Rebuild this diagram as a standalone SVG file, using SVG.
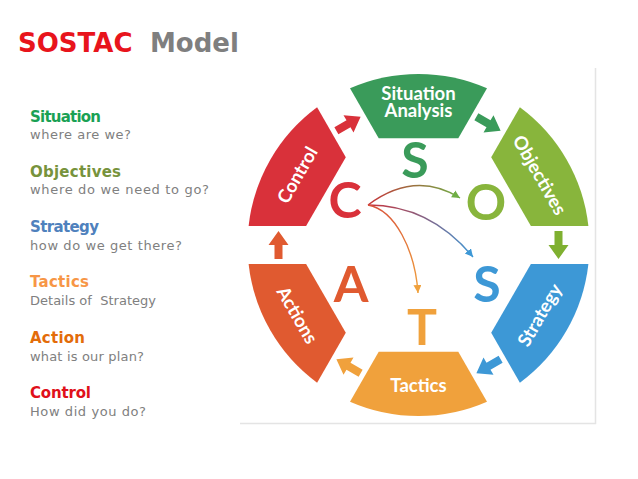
<svg xmlns="http://www.w3.org/2000/svg" width="638" height="479" viewBox="0 0 638 479">
<style>
.h{font-family:"DejaVu Sans","Liberation Sans",sans-serif;font-weight:bold;font-size:15px}
.s{font-family:"DejaVu Sans","Liberation Sans",sans-serif;font-size:13px;fill:#808080}
.lbl{font-family:Lato,"Liberation Sans",sans-serif;font-weight:bold;font-size:18.5px;fill:#fff;text-anchor:middle}
.big{font-family:Lato,"Liberation Sans",sans-serif;font-weight:bold;font-size:50px;text-anchor:middle}
.cv{fill:none;stroke-width:1.4}
</style>
<defs>
<polygon id="arr" points="-14,-4 0,-4 0,-10 14,0 0,10 0,4 -14,4"/>
<linearGradient id="gO" gradientUnits="userSpaceOnUse" x1="368" y1="205" x2="460" y2="198"><stop offset="0" stop-color="#c8323a"/><stop offset="1" stop-color="#6fae45"/></linearGradient>
<linearGradient id="gS" gradientUnits="userSpaceOnUse" x1="368" y1="205" x2="473" y2="257"><stop offset="0" stop-color="#c8323a"/><stop offset="1" stop-color="#3d98d6"/></linearGradient>
<linearGradient id="gT" gradientUnits="userSpaceOnUse" x1="368" y1="205" x2="418" y2="293"><stop offset="0" stop-color="#d8503a"/><stop offset="1" stop-color="#f0a13c"/></linearGradient>
<marker id="mO" markerUnits="userSpaceOnUse" markerWidth="10" markerHeight="10" refX="8" refY="4" orient="auto"><path d="M0,0 L8,4 L0,8 Z" fill="#6fae45"/></marker>
<marker id="mS" markerUnits="userSpaceOnUse" markerWidth="10" markerHeight="10" refX="8" refY="4" orient="auto"><path d="M0,0 L8,4 L0,8 Z" fill="#3d98d6"/></marker>
<marker id="mT" markerUnits="userSpaceOnUse" markerWidth="10" markerHeight="10" refX="8" refY="4" orient="auto"><path d="M0,0 L8,4 L0,8 Z" fill="#f0a13c"/></marker>
</defs>
<rect width="638" height="479" fill="#fff"/>
<g id="title">
<text x="18" y="52" font-family="DejaVu Sans, Liberation Sans, sans-serif" font-weight="bold" font-size="26" fill="#e8141c">SOSTAC<tspan x="150" fill="#7f7f7f">Model</tspan></text>
</g>
<g id="legend">
<text class="h" x="30" y="122" fill="#1aa154" textLength="71">Situation</text>
<text class="s" x="30" y="139" textLength="101">where are we?</text>
<text class="h" x="30" y="177" fill="#77933c" textLength="91">Objectives</text>
<text class="s" x="30" y="194" textLength="179">where do we need to go?</text>
<text class="h" x="30" y="232" fill="#4f81bd" textLength="69">Strategy</text>
<text class="s" x="30" y="250" textLength="152">how do we get there?</text>
<text class="h" x="30" y="287" fill="#f79646" textLength="59">Tactics</text>
<text class="s" x="30" y="305" textLength="126" xml:space="preserve">Details of  Strategy</text>
<text class="h" x="30" y="343" fill="#e36c09" textLength="55">Action</text>
<text class="s" x="30" y="361" textLength="114">what is our plan?</text>
<text class="h" x="30" y="398" fill="#e0101a" textLength="61">Control</text>
<text class="s" x="30" y="416" textLength="116">How did you do?</text>
</g>
<g id="frame" stroke="#e4e4e4" stroke-width="1.5" fill="none">
<path d="M595.5,68 V423.5 H240"/>
</g>
<g id="situation">
<path d="M350,88.3 A171,171 0 0 1 487,88.3 L458.3,138.2 L378.7,138.2 Z" fill="#3a9b5a"/>
<text class="lbl" x="418.5" y="100">Situation<tspan x="418.5" dy="17">Analysis</tspan></text>
</g>
<g id="objectives">
<path d="M519.9,107.3 A171,171 0 0 1 588.4,226 L530.9,226 L491.2,157.2 Z" fill="#88b53c"/>
<text class="lbl" transform="translate(539.7,175) rotate(60)" y="6.5">Objectives</text>
</g>
<g id="strategy">
<path d="M588.4,264 A171,171 0 0 1 519.9,382.7 L491.2,332.8 L530.9,264 Z" fill="#3d98d6"/>
<text class="lbl" transform="translate(539.7,315) rotate(-60)" y="6.5">Strategy</text>
</g>
<g id="tactics">
<path d="M487,401.7 A171,171 0 0 1 350,401.7 L378.7,351.8 L458.3,351.8 Z" fill="#f0a13c"/>
<text class="lbl" x="418.5" y="392">Tactics</text>
</g>
<g id="actions">
<path d="M317.1,382.7 A171,171 0 0 1 248.6,264 L306.1,264 L345.8,332.8 Z" fill="#e05a30"/>
<text class="lbl" transform="translate(297.3,315) rotate(60)" y="6.5">Actions</text>
</g>
<g id="control">
<path d="M248.6,226 A171,171 0 0 1 317.1,107.3 L345.8,157.2 L306.1,226 Z" fill="#d9313a"/>
<text class="lbl" transform="translate(297.3,175) rotate(-60)" y="6.5">Control</text>
</g>
<g id="letters">
<text class="big" x="415" y="178" fill="#3a9b5a">S</text>
<text class="big" x="486" y="220" fill="#88b53c">O</text>
<text class="big" x="487" y="302" fill="#3d98d6">S</text>
<text class="big" x="422" y="345" fill="#f0a13c">T</text>
<text class="big" x="351" y="302" fill="#e05a30">A</text>
<text class="big" x="345" y="218" fill="#d9313a">C</text>
</g>
<g id="connectors">
<use href="#arr" transform="translate(348.5,123.8) rotate(-30)" fill="#d9313a"/>
<use href="#arr" transform="translate(488.5,123.8) rotate(30)" fill="#3a9b5a"/>
<use href="#arr" transform="translate(558.5,245) rotate(90)" fill="#7fb030"/>
<use href="#arr" transform="translate(488.5,366.2) rotate(150)" fill="#3d98d6"/>
<use href="#arr" transform="translate(348.5,366.2) rotate(210)" fill="#f0a13c"/>
<use href="#arr" transform="translate(278.5,245) rotate(270)" fill="#e05a30"/>
<path class="cv" d="M368,205 Q415,170 460,198" stroke="url(#gO)" marker-end="url(#mO)"/>
<path class="cv" d="M368,205 Q430,205 473,257" stroke="url(#gS)" marker-end="url(#mS)"/>
<path class="cv" d="M368,205 C395,210 415,250 418,293" stroke="url(#gT)" marker-end="url(#mT)"/>
</g>
</svg>
